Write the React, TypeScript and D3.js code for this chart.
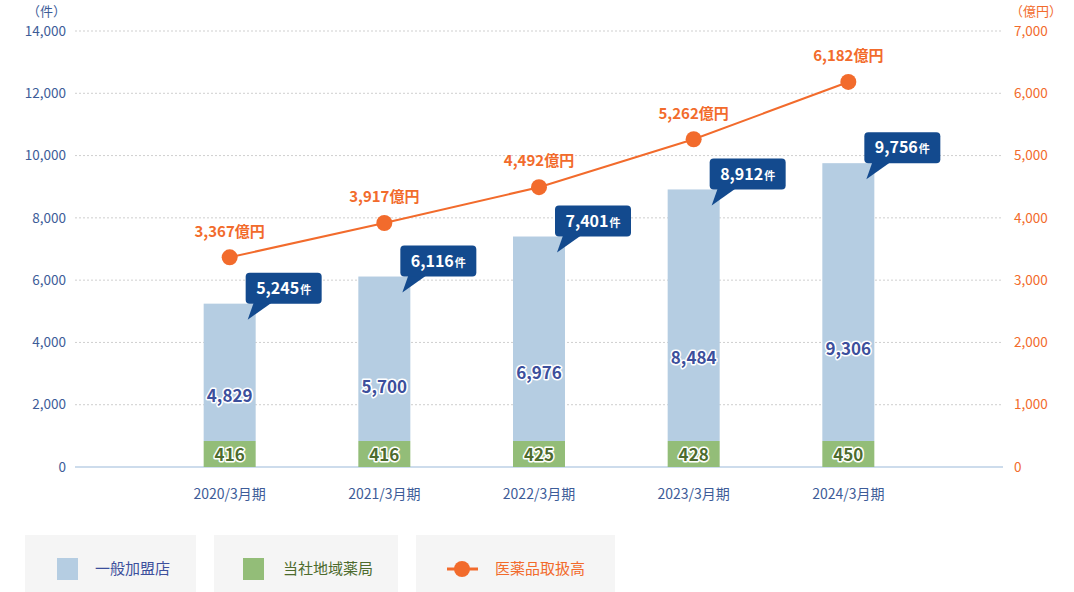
import React from "react";
import * as d3 from "d3";

const categories = ["2020/3月期", "2021/3月期", "2022/3月期", "2023/3月期", "2024/3月期"];
const generalStores = [4829, 5700, 6976, 8484, 9306];
const ownPharmacies = [416, 416, 425, 428, 450];
const totals = [5245, 6116, 7401, 8912, 9756];
const salesOku = [3367, 3917, 4492, 5262, 6182];
const leftTicks = [0, 2000, 4000, 6000, 8000, 10000, 12000, 14000];
const rightTicks = [0, 1000, 2000, 3000, 4000, 5000, 6000, 7000];
const legendItems = ["一般加盟店", "当社地域薬局", "医薬品取扱高"];

const W = 1074;
const H = 592;
const M = { left: 75, right: 1003, top: 31, bottom: 467 };
const FONT = "'Noto Sans CJK JP', 'Noto Sans', sans-serif";
const C = {
  blue: "#b5cde2",
  green: "#93bd78",
  navy: "#134a8e",
  orange: "#f26b2c",
  axisBlue: "#3d5c98",
  labelBlue: "#3c4f9c",
  labelGreen: "#4d6b2d",
  grid: "#cfcfcf",
  base: "#cddcec",
  legendBg: "#f5f5f5",
};

export default function App() {
  const x = d3.scalePoint<string>().domain(categories).range([M.left, M.right]).padding(1);
  const yL = d3.scaleLinear().domain([0, 14000]).range([M.bottom, M.top]);
  const yR = d3.scaleLinear().domain([0, 7000]).range([M.bottom, M.top]);
  const barW = 52;
  const fmt = d3.format(",");
  const line = d3
    .line<number>()
    .x((_, i) => x(categories[i]) as number)
    .y((d) => yR(d));

  const legendBoxes = [
    { x0: 25, x1: 196 },
    { x0: 214, x1: 398 },
    { x0: 416, x1: 615 },
  ];

  return (
    <svg
      width={W}
      height={H}
      style={{ position: "absolute", left: 0, top: 0, background: "#fff" }}
      fontFamily={FONT}
    >
      {leftTicks.map((t) =>
        t === 0 ? null : (
          <line
            key={"g" + t}
            x1={M.left}
            x2={M.right}
            y1={yL(t)}
            y2={yL(t)}
            stroke={C.grid}
            strokeWidth={1}
            strokeDasharray="2,2"
          />
        )
      )}
      <line x1={M.left} x2={M.right} y1={yL(0)} y2={yL(0)} stroke={C.base} strokeWidth={2} />

      <text x={66} y={16} textAnchor="end" fontSize={13} fill={C.axisBlue}>
        （件）
      </text>
      {leftTicks.map((t) => (
        <text
          key={"l" + t}
          x={66}
          y={yL(t)}
          dy="0.35em"
          textAnchor="end"
          fontSize={13.5}
          fill={C.axisBlue}
        >
          {fmt(t)}
        </text>
      ))}
      <text x={1010} y={16} textAnchor="start" fontSize={13} fill={C.orange}>
        （億円）
      </text>
      {rightTicks.map((t) => (
        <text
          key={"r" + t}
          x={1014}
          y={yR(t)}
          dy="0.35em"
          textAnchor="start"
          fontSize={13.5}
          fill={C.orange}
        >
          {fmt(t)}
        </text>
      ))}

      {categories.map((c) => (
        <text
          key={"x" + c}
          x={x(c)}
          y={494}
          dy="0.35em"
          textAnchor="middle"
          fontSize={14}
          fill={C.axisBlue}
        >
          {c}
        </text>
      ))}

      {categories.map((c, i) => {
        const cx = x(c) as number;
        const y0 = yL(0);
        const gTop = Math.min(yL(ownPharmacies[i]), y0 - 26);
        const bTop = yL(totals[i]);
        const labelY = bTop + 0.67 * (gTop - bTop);
        const bx = cx + 16;
        const bw = 76;
        const bh = 31;
        const by = bTop - bh;
        return (
          <g key={"b" + c}>
            <rect x={cx - barW / 2} y={bTop} width={barW} height={gTop - bTop} fill={C.blue} />
            <rect x={cx - barW / 2} y={gTop} width={barW} height={y0 - gTop} fill={C.green} />
            <text
              x={cx}
              y={labelY}
              dy="0.35em"
              textAnchor="middle"
              fontSize={17}
              fontWeight={700}
              fill={C.labelBlue}
              stroke="#fff"
              strokeWidth={3}
              paintOrder="stroke"
              strokeLinejoin="round"
            >
              {fmt(generalStores[i])}
            </text>
            <text
              x={cx}
              y={(gTop + y0) / 2 + 1}
              dy="0.35em"
              textAnchor="middle"
              fontSize={17}
              fontWeight={700}
              fill={C.labelGreen}
              stroke="#fff"
              strokeWidth={3}
              paintOrder="stroke"
              strokeLinejoin="round"
            >
              {fmt(ownPharmacies[i])}
            </text>
            <path
              d={`M${bx + 8},${by + bh - 1} L${bx + 26},${by + bh - 1} L${bx + 2},${by + bh + 16} Z`}
              fill={C.navy}
            />
            <rect x={bx} y={by} width={bw} height={bh} rx={4} fill={C.navy} />
            <text
              x={bx + bw / 2}
              y={by + bh / 2}
              dy="0.35em"
              textAnchor="middle"
              fill="#fff"
              fontWeight={700}
              fontSize={16}
            >
              {fmt(totals[i])}
              <tspan fontSize={11} dx={1}>
                件
              </tspan>
            </text>
          </g>
        );
      })}

      <path d={line(salesOku) || ""} fill="none" stroke={C.orange} strokeWidth={2} />
      {salesOku.map((v, i) => {
        const cx = x(categories[i]) as number;
        return (
          <g key={"p" + i}>
            <circle cx={cx} cy={yR(v)} r={8} fill={C.orange} />
            <text
              x={cx}
              y={yR(v) - 26}
              dy="0.35em"
              textAnchor="middle"
              fontSize={15}
              fontWeight={700}
              fill={C.orange}
            >
              {fmt(v)}億円
            </text>
          </g>
        );
      })}

      {legendBoxes.map((b, i) => (
        <rect key={"lb" + i} x={b.x0} y={535} width={b.x1 - b.x0} height={62} fill={C.legendBg} />
      ))}
      <rect x={57} y={558} width={21} height={22} fill={C.blue} />
      <text x={95} y={569} dy="0.35em" fontSize={15} fill={C.labelBlue}>
        {legendItems[0]}
      </text>
      <rect x={243} y={558} width={21} height={22} fill={C.green} />
      <text x={283} y={569} dy="0.35em" fontSize={15} fill={C.labelGreen}>
        {legendItems[1]}
      </text>
      <line x1={447} x2={478} y1={569} y2={569} stroke={C.orange} strokeWidth={3} />
      <circle cx={462} cy={569} r={8} fill={C.orange} />
      <text x={495} y={569} dy="0.35em" fontSize={15} fill={C.orange}>
        {legendItems[2]}
      </text>
    </svg>
  );
}
